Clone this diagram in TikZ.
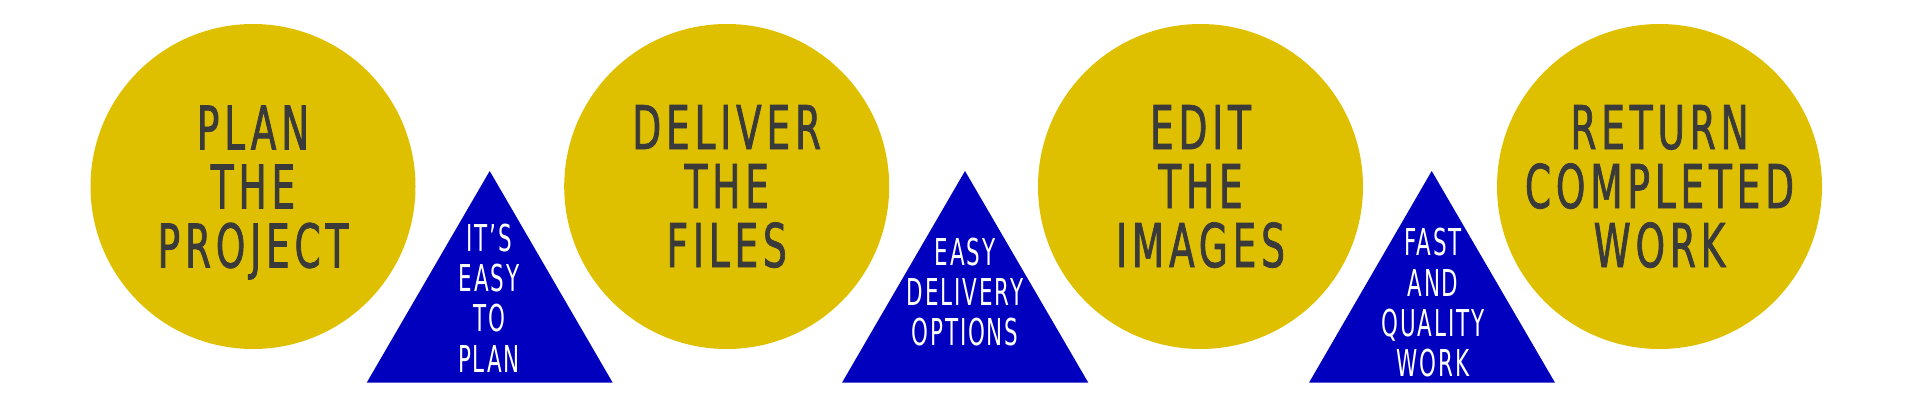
\documentclass[tikz,border=0pt]{standalone}
\usepackage{fontspec}
\newfontfamily\circfont[FakeStretch=0.62,LetterSpace=8,FakeBold=1.2]{DejaVu Sans}
\newfontfamily\trifont[FakeStretch=0.58,LetterSpace=5]{DejaVu Sans}
\definecolor{gold}{HTML}{DFC000}
\definecolor{royal}{HTML}{0000BE}
\definecolor{ink}{HTML}{3A3A3A}
\tikzset{
  stepcircle/.style={circle, fill=gold, minimum size=325pt, inner sep=0pt,
    align=center, text=ink, font=\fontsize{60.4}{59}\selectfont\circfont},
  tritext/.style={align=center, text=white, inner sep=0pt,
    font=\fontsize{37}{40.2}\selectfont\trifont},
  trifill/.style={fill=royal}
}
\begin{document}
\begin{tikzpicture}[x=1pt,y=1pt]
\useasboundingbox (0,0) rectangle (1920,400);
% circles
\node[stepcircle] (c1) at (253,213.5) {PLAN\\THE\\\smash{PROJECT}};
\node[stepcircle] (c2) at (726.7,213.5) {DELIVER\\THE\\FILES};
\node[stepcircle] (c3) at (1200.5,213.5) {EDIT\\THE\\IMAGES};
\node[stepcircle] (c4) at (1659.5,213.5) {RETURN\\COMPLETED\\WORK};
% triangles
\coordinate (a1) at (489.7,229); \coordinate (l1) at (366.7,17.3); \coordinate (r1) at (612.7,17.3);
\coordinate (a2) at (965,229);   \coordinate (l2) at (842,17.3);   \coordinate (r2) at (1088.3,17.3);
\coordinate (a3) at (1431.7,229);\coordinate (l3) at (1309,17.3);  \coordinate (r3) at (1555,17.3);
\fill[trifill] (a1) -- (l1) -- (r1) -- cycle;
\fill[trifill] (a2) -- (l2) -- (r2) -- cycle;
\fill[trifill] (a3) -- (l3) -- (r3) -- cycle;
\node[tritext] (t1) at (489,102) {IT’S\\EASY\\TO\\PLAN};
\node[tritext] (t2) at (965,108) {EASY\\DELIVERY\\OPTIONS};
\node[tritext] (t3) at (1433,97.2) {FAST\\AND\\QUALITY\\WORK};
\end{tikzpicture}
\end{document}
